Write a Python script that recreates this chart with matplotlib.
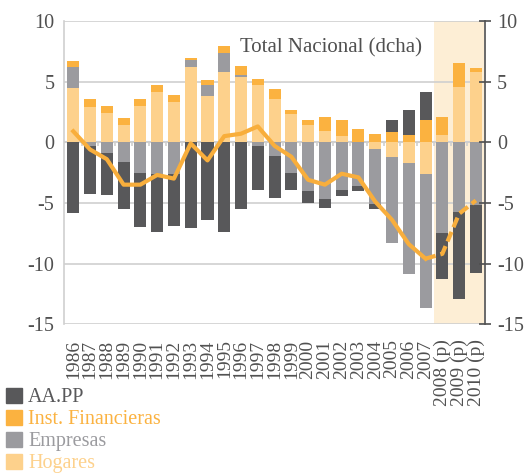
import numpy as np
import matplotlib.pyplot as plt
from matplotlib.patches import Patch

# Datos (% PIB)
years = ["1986", "1987", "1988", "1989", "1990", "1991", "1992", "1993", "1994",
         "1995", "1996", "1997", "1998", "1999", "2000", "2001", "2002", "2003",
         "2004", "2005", "2006", "2007", "2008 (p)", "2009 (p)", "2010 (p)"]

hogares = [4.5, 2.9, 2.4, 1.4, 3.0, 4.15, 3.35, 6.2, 3.8, 5.8, 5.4, 4.7, 3.6,
           2.3, 1.45, 0.9, 0.55, 0.0, -0.6, -1.2, -1.75, -2.65, 0.6, 4.55, 5.8]
empresas = [1.7, -0.35, -0.85, -1.65, -2.5, -2.65, -2.65, 0.6, 0.9, 1.55, 0.1,
            -0.35, -1.15, -2.5, -4.05, -4.7, -3.9, -3.65, -4.5, -7.1, -9.15,
            -11.05, -7.5, -5.75, -5.2]
inst_fin = [0.5, 0.7, 0.55, 0.57, 0.58, 0.58, 0.57, 0.15, 0.4, 0.55, 0.8, 0.5,
            0.75, 0.33, 0.4, 1.15, 1.25, 1.05, 0.7, 0.8, 0.6, 1.85, 1.5, 2.0, 0.3]
aapp = [-5.8, -3.95, -3.5, -3.85, -4.5, -4.75, -4.25, -7.05, -6.4, -7.4, -5.5,
        -3.6, -3.45, -1.4, -0.95, -0.75, -0.5, -0.35, -0.4, 1.05, 2.05, 2.3,
        -3.8, -7.2, -5.55]
total = [0.9, -0.6, -1.4, -3.5, -3.5, -2.7, -3.0, -0.1, -1.5, 0.5, 0.7, 1.3,
         -0.3, -1.2, -3.1, -3.5, -2.6, -2.9, -4.9, -6.4, -8.4, -9.6, -9.2, -5.9, -4.8]
n_real = 22  # hasta 2007 datos observados, después previsiones

# Colores
C_AAPP = "#58585a"
C_INST = "#fbb240"
C_EMP = "#9b9b9f"
C_HOG = "#fdd18c"
C_LINE = "#f8ae3c"
C_TXT = "#505050"
C_GRID = "#cfcfcf"

plt.rcParams['font.family'] = ['Liberation Serif', 'DejaVu Serif']
plt.rcParams['axes.unicode_minus'] = False

fig = plt.figure(figsize=(5.25, 4.74), dpi=100)
ax = fig.add_axes([0.122, 0.316, 0.802, 0.640])

x = np.arange(len(years))
ax.axvspan(n_real - 0.5, len(years) - 0.5, color="#fdeed5", zorder=0, lw=0)

# Barras apiladas (positivo y negativo por separado)
pos = np.zeros(len(years))
neg = np.zeros(len(years))
for vals, col in [(hogares, C_HOG), (empresas, C_EMP), (inst_fin, C_INST), (aapp, C_AAPP)]:
    v = np.array(vals)
    bottom = np.where(v >= 0, pos, neg)
    ax.bar(x, v, bottom=bottom, width=0.72, color=col, zorder=3, lw=0)
    pos = pos + np.where(v >= 0, v, 0)
    neg = neg + np.where(v < 0, v, 0)

ax.set_xlim(-0.55, len(years) - 0.45)
ax.set_ylim(-15, 10)
ax.set_yticks([10, 5, 0, -5, -10, -15])
ax.grid(axis='y', color=C_GRID, lw=1.2, zorder=1)
ax.axhline(0, color=C_GRID, lw=1.5, zorder=2)
ax.vlines(x[1:] - 0.5, -0.35, 0, color=C_GRID, lw=1.2, zorder=2)

ax.set_xticks(x)
ax.set_xticklabels(years, rotation=90, fontsize=14, color=C_TXT)
ax.tick_params(axis='x', length=0, pad=11)
ax.tick_params(axis='y', length=0, labelsize=14.5, labelcolor=C_TXT, pad=7)
for s in ['top', 'right', 'bottom']:
    ax.spines[s].set_visible(False)
ax.spines['left'].set_color(C_GRID)
ax.spines['left'].set_linewidth(1.2)

# Eje derecho: total nacional
ax2 = ax.twinx()
ax2.set_ylim(-15, 10)
ax2.set_yticks([10, 5, 0, -5, -10, -15])
ax2.tick_params(axis='y', direction='inout', length=9, width=1.2, color=C_TXT,
                labelsize=14.5, labelcolor=C_TXT, pad=4)
for s in ['top', 'left', 'bottom']:
    ax2.spines[s].set_visible(False)
ax2.spines['right'].set_color(C_TXT)
ax2.spines['right'].set_linewidth(1.2)
ax2.plot(x[:n_real], total[:n_real], color=C_LINE, lw=3, zorder=4)
ax2.plot(x[n_real - 1:], total[n_real - 1:], color=C_LINE, lw=3, ls=(0, (2.5, 1.2)), zorder=4)

ax.text(9.95, 7.8, "Total Nacional (dcha)", fontsize=15, color=C_TXT, va='center', ha='left', zorder=5)

handles = [Patch(color=C_AAPP), Patch(color=C_INST), Patch(color=C_EMP), Patch(color=C_HOG)]
labels = ["AA.PP", "Inst. Financieras", "Empresas", "Hogares"]
leg = fig.legend(handles, labels, loc='upper left', bbox_to_anchor=(0.012, 0.182),
                 frameon=False, fontsize=14.5, handlelength=0.78, handleheight=0.78,
                 handletextpad=0.3, labelspacing=0.12, borderaxespad=0, borderpad=0)
for t, c in zip(leg.get_texts(), [C_AAPP, C_INST, C_EMP, C_HOG]):
    t.set_color(c)

fig.savefig("out.png", dpi=100)
